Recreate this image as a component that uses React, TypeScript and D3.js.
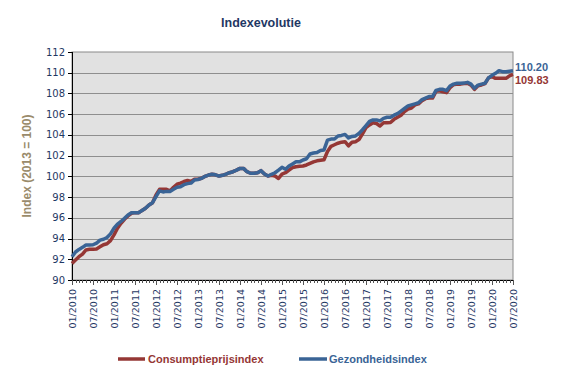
import React from "react";
import * as d3 from "d3";

const tickLabels = [
  "01/2010","07/2010","01/2011","07/2011","01/2012","07/2012","01/2013","07/2013",
  "01/2014","07/2014","01/2015","07/2015","01/2016","07/2016","01/2017","07/2017",
  "01/2018","07/2018","01/2019","07/2019","01/2020","07/2020",
];

const yTicks = [90, 92, 94, 96, 98, 100, 102, 104, 106, 108, 110, 112];

const consumptie = [
  91.6, 91.93, 92.25, 92.5, 92.9, 92.96, 92.96, 93.0, 93.2, 93.4, 93.5, 93.8,
  94.35, 95.0, 95.47, 95.86, 96.18, 96.44, 96.5, 96.5, 96.7, 96.92, 97.24, 97.46,
  98.2, 98.75, 98.75, 98.75, 98.6, 98.95, 99.24, 99.35, 99.5, 99.6, 99.5, 99.72,
  99.72, 99.82, 100.0, 100.13, 100.2, 100.15, 100.03, 100.1, 100.22, 100.35, 100.45, 100.6,
  100.77, 100.77, 100.45, 100.3, 100.3, 100.35, 100.55, 100.22, 100.03, 100.1, 100.03, 99.8,
  100.22, 100.35, 100.6, 100.85, 100.93, 100.98, 101.0, 101.1, 101.25, 101.4, 101.5, 101.55,
  101.6, 102.4, 102.9, 103.05, 103.2, 103.3, 103.35, 102.95, 103.3, 103.35, 103.55, 104.1,
  104.7, 104.96, 105.18, 105.1, 104.86, 105.18, 105.18, 105.2, 105.5, 105.7, 105.9, 106.25,
  106.5, 106.6, 106.9, 107.0, 107.3, 107.5, 107.55, 107.55, 108.2, 108.25, 108.15, 108.08,
  108.55, 108.85, 108.9, 108.9, 108.95, 108.98, 108.8, 108.4, 108.75, 108.82, 108.95, 109.5,
  109.62, 109.46, 109.46, 109.46, 109.46, 109.7, 109.83,
];

const gezondheid = [
  92.25, 92.7, 92.95, 93.15, 93.38, 93.38, 93.4, 93.55, 93.85, 93.93, 94.1, 94.45,
  95.0, 95.4, 95.65, 95.95, 96.27, 96.5, 96.5, 96.5, 96.7, 96.92, 97.24, 97.46,
  98.04, 98.6, 98.5, 98.55, 98.55, 98.75, 98.95, 99.0, 99.2, 99.3, 99.35, 99.65,
  99.7, 99.8, 100.0, 100.13, 100.2, 100.15, 100.03, 100.1, 100.22, 100.35, 100.45, 100.6,
  100.77, 100.77, 100.45, 100.3, 100.3, 100.35, 100.55, 100.22, 100.03, 100.2, 100.35, 100.6,
  100.87, 100.68, 101.0, 101.2, 101.4, 101.4, 101.58, 101.7, 102.16, 102.25, 102.3, 102.5,
  102.55, 103.5, 103.6, 103.6, 103.9, 103.95, 104.05, 103.7, 103.85, 103.9, 104.15, 104.5,
  104.9, 105.3, 105.44, 105.45, 105.35, 105.6, 105.7, 105.7, 105.9, 106.05, 106.3, 106.55,
  106.8, 106.9, 107.0, 107.1, 107.4, 107.55, 107.7, 107.7, 108.3, 108.4, 108.4, 108.27,
  108.72, 108.9, 108.98, 108.98, 109.0, 109.07, 108.9, 108.5, 108.8, 108.9, 108.98, 109.5,
  109.75, 109.94, 110.2, 110.1, 110.1, 110.15, 110.2,
];

const seriesNames = ["Consumptieprijsindex", "Gezondheidsindex"];
const lastLabels = ["109.83", "110.20"];

const W = 576, H = 381;
const X0 = 72, X1 = 513, Y0 = 280, Y1 = 52;
const RED = "#953735";
const BLUE = "#3A6496";
const NAVY = "#1F3864";
const AXIS_FONT = "DejaVu Sans, Verdana, sans-serif";
const BOLD_FONT = "Liberation Sans, Arial, sans-serif";

export default function App() {
  const n = consumptie.length;
  const x = d3.scaleLinear().domain([0, n - 1]).range([X0, X1]);
  const y = d3.scaleLinear().domain([90, 112]).range([Y0, Y1]);
  const line = d3.line<number>().x((_, i) => x(i)).y((d) => y(d));
  const months = d3.range(n);

  return (
    <svg width={W} height={H} style={{ position: "absolute", left: 0, top: 0, background: "#fff" }}>
      <text x={261} y={27} textAnchor="middle" fontFamily={BOLD_FONT} fontWeight="bold" fontSize={12.5} fill={NAVY}>
        Indexevolutie
      </text>
      <rect x={X0} y={Y1} width={X1 - X0} height={Y0 - Y1} fill="#E1E1E1" stroke="#8A8A8A" strokeWidth={1} />
      {yTicks.filter((t) => t !== 90 && t !== 112).map((t) => (
        <line key={t} x1={X0} x2={X1} y1={Math.round(y(t)) + 0.5} y2={Math.round(y(t)) + 0.5} stroke="#8E8E8E" strokeWidth={1} />
      ))}
      {/* y axis */}
      <line x1={X0 + 0.5} x2={X0 + 0.5} y1={Y1} y2={Y0} stroke="#000" strokeWidth={1} />
      {yTicks.map((t) => (
        <g key={t}>
          <line x1={X0 - 4} x2={X0} y1={Math.round(y(t)) + 0.5} y2={Math.round(y(t)) + 0.5} stroke="#000" />
          <text x={X0 - 7} y={y(t)} dy="0.35em" textAnchor="end" fontFamily={AXIS_FONT} fontSize={10} fill={NAVY}>
            {t}
          </text>
        </g>
      ))}
      {/* x axis */}
      <line x1={X0} x2={X1} y1={Y0 + 0.5} y2={Y0 + 0.5} stroke="#000" strokeWidth={1} />
      {months.map((i) => (
        <line key={i} x1={Math.round(x(i)) + 0.5} x2={Math.round(x(i)) + 0.5} y1={Y0} y2={Y0 + (i % 6 === 0 ? 5 : 3)} stroke="#555" strokeWidth={1} />
      ))}
      {tickLabels.map((lab, k) => (
        <text key={lab} transform={`translate(${x(k * 6) + 3.5},${Y0 + 9}) rotate(-90)`} textAnchor="end" fontFamily={AXIS_FONT} fontSize={9.5} fill={NAVY}>
          {lab}
        </text>
      ))}
      <text transform={`translate(31,166) rotate(-90)`} textAnchor="middle" fontFamily={BOLD_FONT} fontWeight="bold" fontSize={12} fill="#9A8B6B">
        Index (2013 = 100)
      </text>
      <path d={line(consumptie) || ""} fill="none" stroke={RED} strokeWidth={3.5} strokeLinejoin="round" />
      <path d={line(gezondheid) || ""} fill="none" stroke={BLUE} strokeWidth={3.5} strokeLinejoin="round" />
      <text x={515} y={71} fontFamily={BOLD_FONT} fontWeight="bold" fontSize={11} fill={BLUE}>{lastLabels[1]}</text>
      <text x={515} y={84} fontFamily={BOLD_FONT} fontWeight="bold" fontSize={11} fill={RED}>{lastLabels[0]}</text>
      {/* legend */}
      <line x1={118} x2={145} y1={359} y2={359} stroke={RED} strokeWidth={3.5} />
      <text x={148} y={363} fontFamily={BOLD_FONT} fontWeight="bold" fontSize={11} fill={RED}>{seriesNames[0]}</text>
      <line x1={299} x2={327} y1={359} y2={359} stroke={BLUE} strokeWidth={3.5} />
      <text x={329} y={363} fontFamily={BOLD_FONT} fontWeight="bold" fontSize={11} fill={BLUE}>{seriesNames[1]}</text>
    </svg>
  );
}
